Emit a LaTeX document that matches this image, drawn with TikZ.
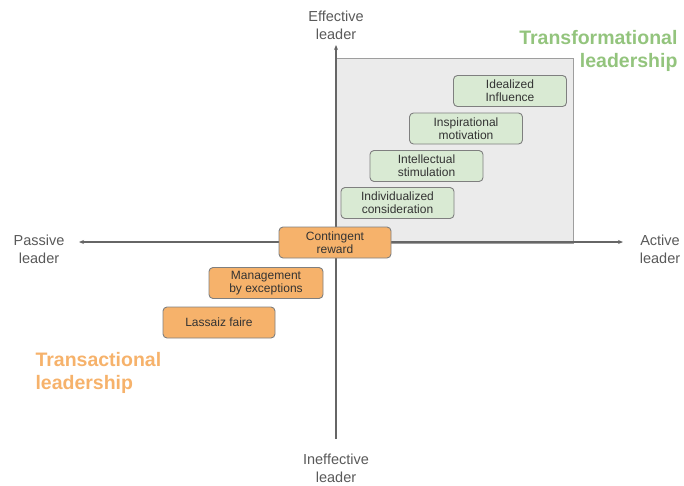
\documentclass[tikz,border=0pt]{standalone}
\usepackage{fontspec}
\setmainfont{Liberation Sans}
\usepackage{tikz}
\usetikzlibrary{arrows.meta,positioning}
\definecolor{axisgray}{HTML}{666666}
\definecolor{labelgray}{HTML}{595959}
\definecolor{quadfill}{HTML}{EBEBEB}
\definecolor{quadline}{HTML}{9E9E9E}
\definecolor{greenfill}{HTML}{D9EAD3}
\definecolor{greentext}{HTML}{93C47D}
\definecolor{orangefill}{HTML}{F6B26B}
\definecolor{orangetext}{HTML}{F6B26B}
\definecolor{boxline}{HTML}{7F7F7F}

\begin{document}
\begin{tikzpicture}[x=1pt,y=-1pt,
  axis/.style={draw=axisgray,line width=1.1pt,-{Stealth[length=5pt,width=4pt]}},
  axislabel/.style={text=labelgray,align=center,font=\fontsize{14.5}{18}\selectfont},
  stylebox/.style={rounded corners=4pt,line width=0.9pt,draw=boxline,inner sep=0pt,
    minimum height=31pt,align=center,text=black!80,font=\fontsize{12}{13}\selectfont},
  greenbox/.style={stylebox,fill=greenfill,minimum width=113pt},
  orangebox/.style={stylebox,fill=orangefill,minimum width=113pt},
  grouplabel/.style={font=\fontsize{19.5}{23}\selectfont\bfseries}]
\useasboundingbox (0,0) rectangle (684,485);

% quadrant of transformational leadership
\fill[quadfill,draw=quadline,line width=1pt] (336,58) rectangle (573,243);

% axes
\coordinate (top) at (336,45);
\coordinate (bottom) at (336,439);
\coordinate (left) at (79,242);
\coordinate (right) at (623,242);
\draw[axis] (bottom) -- (top);
\draw[axis] (336,242) -- (left);
\draw[axis] (336,242) -- (right);

\node[axislabel] (eff) at (336,25) {Effective\\leader};
\node[axislabel] (ineff) at (336,468) {Ineffective\\leader};
\node[axislabel] (passive) at (39,249) {Passive\\leader};
\node[axislabel] (active) at (660,249) {Active\\leader};

% transformational
\node[greenbox] (ideal) at (510,91) {Idealized\\Influence};
\node[greenbox] (inspire) at (466,128.5) {Inspirational\\motivation};
\node[greenbox] (intel) at (426.5,166) {Intellectual\\stimulation};
\node[greenbox] (indiv) at (397.5,203) {Individualized\\consideration};

% transactional
\node[orangebox,minimum width=112pt] (reward) at (335,242.5) {Contingent\\reward};
\node[orangebox,minimum width=114pt] (manage) at (266,283) {Management\\by exceptions};
\node[orangebox,minimum width=112pt] (laissez) at (219,322.5) {Lassaiz faire};

\node[grouplabel,text=greentext,align=right,anchor=north east] (transf) at (681,27) {Transformational\\leadership};
\node[grouplabel,text=orangetext,align=left,anchor=north west] (transa) at (32,349) {Transactional\\leadership};
\end{tikzpicture}
\end{document}
